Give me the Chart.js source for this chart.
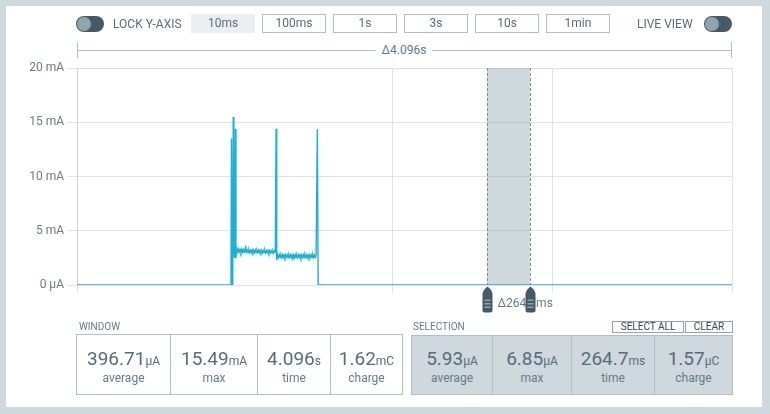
<!DOCTYPE html>
<html>
<head>
<meta charset="utf-8">
<script src="https://cdn.jsdelivr.net/npm/chart.js@4.4.0/dist/chart.umd.min.js"></script>
<style>
  html, body { margin: 0; padding: 0; }
  body { width: 770px; height: 414px; background: #cfd8dc; position: relative; overflow: hidden;
         font-family: Roboto, sans-serif; color: #546e7a; }
  .panel { position: absolute; left: 6px; top: 6px; width: 756px; height: 401px; background: #fff; }
  #chart { position: absolute; left: 0; top: 0; }
  .toggle { position: absolute; top: 16px; width: 28px; height: 16px; border-radius: 8px; background: #455a64; }
  .toggle::after { content: ''; position: absolute; left: 1px; top: 1px; width: 14px; height: 14px;
                   border-radius: 50%; background: #90a4ae; }
  .lbl { position: absolute; top: 16px; line-height: 16px; font-size: 12px; color: #546e7a; white-space: nowrap; }
  .btn { position: absolute; top: 14px; width: 62px; height: 17px; border: 1px solid #b0bec5; line-height: 17px;
         text-align: center; font-size: 12px; color: #546e7a; }
  .btn.active { background: #eceff1; border-color: #eceff1; }
  .span-line { position: absolute; left: 77px; top: 50px; width: 655px; height: 1px; background: #b0bec5; }
  .span-tick { position: absolute; top: 42px; width: 1px; height: 16px; background: #b0bec5; }
  .span-label { position: absolute; top: 42px; left: 344px; width: 120px; text-align: center; line-height: 16px;
                font-size: 12px; color: #607d8b; }
  .span-label span { background: #fff; padding: 0 6px; }
  .sec-title { position: absolute; top: 321px; line-height: 12px; font-size: 10px; color: #607d8b; }
  .box { position: absolute; display: flex; border: 1px solid #b0bec5; }
  .box .cell { position: relative; height: 100%; border-left: 1px solid #b0bec5; box-sizing: border-box; }
  .box .cell:first-child { border-left: none; }
  .cell .val { position: absolute; left: 0; right: 0; top: 13px; line-height: 22px; text-align: center;
               font-size: 19px; color: #546e7a; white-space: nowrap; }
  .cell .val small { font-size: 12px; }
  .cell .name { position: absolute; left: 0; right: 0; top: 35px; line-height: 16px; text-align: center;
                font-size: 12px; color: #607d8b; }
  #win { left: 76px; top: 334px; width: 325px; height: 59px; }
  #sel { left: 411px; top: 335px; width: 320px; height: 58px; background: #cfd8dc; }
  #sel .val { top: 12px; } #sel .name { top: 34px; }
  .sbtn { position: absolute; top: 321px; height: 10px; line-height: 10px; border: 1px solid #90a4ae;
          font-size: 10px; color: #37474f; text-align: center; background: #fff; }
</style>
</head>
<body>
<div class="panel"></div>
<canvas id="chart" width="770" height="414"></canvas>

<div class="toggle" style="left:76px"></div>
<div class="lbl" style="left:113px">LOCK Y-AXIS</div>
<div id="spans"></div>
<div class="lbl" style="left:637px">LIVE VIEW</div>
<div class="toggle" style="left:704px"></div>

<div class="span-line"></div>
<div class="span-tick" style="left:77px"></div>
<div class="span-tick" style="left:731px"></div>
<div class="span-label"><span id="spanText"></span></div>

<div class="sec-title" style="left:79px">WINDOW</div>
<div class="box" id="win"></div>
<div class="sec-title" style="left:413px">SELECTION</div>
<div class="sbtn" style="left:612px;width:70px">SELECT ALL</div>
<div class="sbtn" style="left:685px;width:46px">CLEAR</div>
<div class="box" id="sel"></div>

<script>
// time window shown (s), trace samples (s, mA)
const windowS = 4.096;
const timeS = [
  0, 0.963, 0.966, 0.970, 0.974, 0.977, 0.981, 0.986, 0.991, 0.994, 0.997,
  // first plateau
  1.000, 1.005, 1.010, 1.015, 1.020, 1.025, 1.030, 1.035, 1.040, 1.045,
  1.050, 1.055, 1.060, 1.065, 1.070, 1.075, 1.080, 1.085, 1.090, 1.095,
  1.100, 1.105, 1.110, 1.115, 1.120, 1.125, 1.130, 1.135, 1.140, 1.145,
  1.150, 1.155, 1.160, 1.165, 1.170, 1.175, 1.180, 1.185, 1.190, 1.195,
  1.200, 1.205, 1.210, 1.215, 1.220, 1.225, 1.230, 1.235, 1.240,
  1.245, 1.249,
  // second plateau
  1.255, 1.260, 1.265, 1.270, 1.275, 1.280, 1.285, 1.290, 1.295, 1.300,
  1.305, 1.310, 1.315, 1.320, 1.325, 1.330, 1.335, 1.340, 1.345, 1.350,
  1.355, 1.360, 1.365, 1.370, 1.375, 1.380, 1.385, 1.390, 1.395, 1.400,
  1.405, 1.410, 1.415, 1.420, 1.425, 1.430, 1.435, 1.440, 1.445, 1.450,
  1.455, 1.460, 1.465, 1.470, 1.475, 1.480, 1.485, 1.490, 1.495,
  1.503, 1.508, 4.096
];
const currentMA = [
  0, 0, 13.5, 0, 0.2, 15.49, 3.0, 2.5, 14.4, 2.5, 3.2,
  3.28, 3.02, 3.3, 3.05, 3.26, 3.0, 3.29, 3.04, 3.27, 3.02,
  3.3, 3.5, 3.05, 3.22, 2.99, 3.24, 3.01, 3.2, 2.98, 3.23,
  3.0, 3.21, 2.99, 3.22, 2.98, 3.2, 3.0, 3.21, 2.97, 3.19,
  2.99, 3.2, 2.96, 3.18, 2.98, 3.2, 2.96, 3.17, 2.97, 3.18,
  2.95, 3.17, 2.97, 3.16, 2.95, 3.15, 2.96, 3.14, 3.05,
  14.4, 2.3,
  2.77, 2.53, 2.78, 2.55, 2.76, 2.52, 2.79, 2.54, 2.77, 2.53,
  2.78, 2.55, 2.76, 2.52, 2.77, 2.54, 2.78, 2.53, 2.76, 2.55,
  2.77, 2.52, 2.78, 2.54, 2.76, 2.53, 2.77, 2.55, 2.78, 2.52,
  2.76, 2.54, 2.77, 2.53, 2.78, 2.55, 2.76, 2.52, 2.77, 2.54,
  2.78, 2.53, 2.76, 2.55, 2.77, 2.52, 2.76, 2.54, 2.7,
  14.35, 0, 0
];
const yTicksMA = [0, 5, 10, 15, 20];
const xGridS = [0, 1.972, 2.972, 4.096];
const selStartS = 2.567;
const selWidthS = 0.2647;

const spanButtons = ['10ms', '100ms', '1s', '3s', '10s', '1min'];
const statNames = ['average', 'max', 'time', 'charge'];
const windowValues = ['396.71', '15.49', '4.096', '1.62'];
const windowUnits = ['µA', 'mA', 's', 'mC'];
const selectionValues = ['5.93', '6.85', '264.7', '1.57'];
const selectionUnits = ['µA', 'µA', 'ms', 'µC'];

// top bar buttons
const spans = document.getElementById('spans');
spanButtons.forEach((s, i) => {
  const b = document.createElement('div');
  b.className = 'btn' + (i === 0 ? ' active' : '');
  b.style.left = (191 + i * 71) + 'px';
  b.textContent = s;
  spans.appendChild(b);
});
document.getElementById('spanText').textContent = 'Δ' + windowS.toFixed(3) + 's';

// stat boxes
function fillBox(id, values, units, widths) {
  const box = document.getElementById(id);
  values.forEach((v, i) => {
    const c = document.createElement('div');
    c.className = 'cell';
    c.style.width = widths[i] + 'px';
    c.innerHTML = '<div class="val">' + v + '<small>' + units[i] + '</small></div><div class="name">' + statNames[i] + '</div>';
    box.appendChild(c);
  });
}
fillBox('win', windowValues, windowUnits, [93, 87, 73, 72]);
fillBox('sel', selectionValues, selectionUnits, [80, 79, 83, 78]);

Chart.defaults.font.family = 'Roboto, sans-serif';

const selectionPlugin = {
  id: 'selection',
  beforeDatasetsDraw(chart) {
    const { ctx, chartArea: { top, bottom }, scales: { x } } = chart;
    const x0 = Math.round(x.getPixelForValue(selStartS));
    const x1 = Math.round(x.getPixelForValue(selStartS + selWidthS));
    ctx.save();
    ctx.fillStyle = 'rgba(144,164,174,0.43)';
    ctx.fillRect(x0, top, x1 - x0, bottom - top);
    ctx.setLineDash([3, 2]);
    ctx.strokeStyle = '#78909c';
    ctx.lineWidth = 1;
    [x0, x1].forEach(px => {
      ctx.beginPath();
      ctx.moveTo(px + 0.5, top);
      ctx.lineTo(px + 0.5, bottom);
      ctx.stroke();
    });
    ctx.restore();
  },
  afterDraw(chart) {
    const { ctx, chartArea: { bottom }, scales: { x } } = chart;
    const x0 = Math.round(x.getPixelForValue(selStartS)) + 0.5;
    const x1 = Math.round(x.getPixelForValue(selStartS + selWidthS)) + 0.5;
    ctx.save();
    ctx.fillStyle = '#607d8b';
    ctx.font = '12px Roboto, sans-serif';
    ctx.textBaseline = 'middle';
    ctx.fillText('Δ' + (selWidthS * 1000).toFixed(1) + 'ms', x0 + 10, bottom + 19);
    [x0, x1].forEach(cx => {
      const t = bottom + 1.5;
      ctx.fillStyle = '#455a64';
      ctx.beginPath();
      ctx.moveTo(cx, t);
      ctx.quadraticCurveTo(cx + 5, t + 4, cx + 5, t + 8);
      ctx.lineTo(cx + 5, t + 24);
      ctx.quadraticCurveTo(cx + 5, t + 26, cx + 3, t + 26);
      ctx.lineTo(cx - 3, t + 26);
      ctx.quadraticCurveTo(cx - 5, t + 26, cx - 5, t + 24);
      ctx.lineTo(cx - 5, t + 8);
      ctx.quadraticCurveTo(cx - 5, t + 4, cx, t);
      ctx.fill();
      ctx.fillStyle = '#90a4ae';
      [13, 16.5, 20].forEach(dy => ctx.fillRect(cx - 3, t + dy, 6, 1.5));
    });
    ctx.restore();
  }
};

new Chart(document.getElementById('chart'), {
  type: 'line',
  data: {
    datasets: [{
      data: timeS.map((t, i) => ({ x: t, y: currentMA[i] })),
      borderColor: '#1db0d6',
      borderWidth: 1.4,
      pointRadius: 0,
      tension: 0,
      fill: false
    }]
  },
  options: {
    responsive: false,
    animation: false,
    layout: { padding: { left: 0, right: 38, top: 68, bottom: 121 } },
    plugins: { legend: { display: false }, tooltip: { enabled: false } },
    scales: {
      x: {
        type: 'linear',
        min: 0,
        max: windowS,
        afterBuildTicks: s => { s.ticks = xGridS.map(v => ({ value: v })); },
        afterFit: s => { s.height = 8; },
        ticks: { display: false },
        grid: { color: '#e2e2e2', tickLength: 8 },
        border: { display: false }
      },
      y: {
        min: 0,
        max: 20,
        afterBuildTicks: s => { s.ticks = yTicksMA.map(v => ({ value: v })); },
        afterFit: s => { s.width = 77; },
        ticks: {
          callback: v => v === 0 ? '0 µA' : v + ' mA',
          color: '#6b7b85',
          font: { size: 12 },
          padding: 3
        },
        grid: { color: '#e2e2e2', tickLength: 10 },
        border: { color: '#d0d0d0' }
      }
    }
  },
  plugins: [selectionPlugin]
});
</script>
</body>
</html>
